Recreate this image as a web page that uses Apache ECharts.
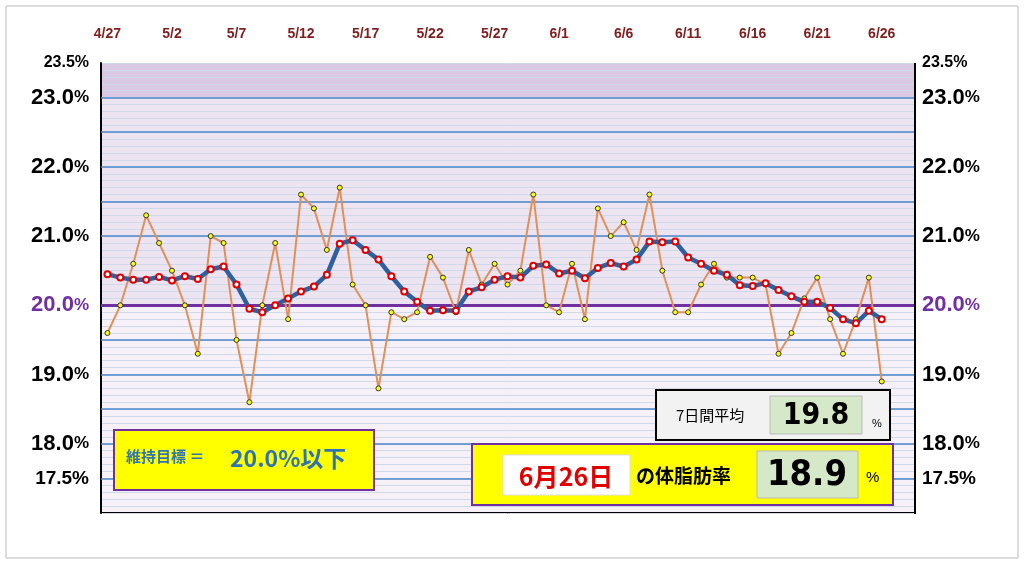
<!DOCTYPE html>
<html><head><meta charset="utf-8">
<script src="https://cdn.jsdelivr.net/npm/echarts@6/dist/echarts.min.js"></script>
<style>html,body{margin:0;padding:0;background:#fff}#c{width:1024px;height:566px}</style>
</head><body><div id="c"></div>
<script>
const categories = [];
const monthsDays = [[4,27,30],[5,1,31],[6,1,28]];
monthsDays.forEach(([m,s,e])=>{for(let d=s;d<=e;d++)categories.push(m+'/'+d);});
const daily = [19.6,20.0,20.6,21.3,20.9,20.5,20.0,19.3,21.0,20.9,19.5,18.6,20.0,20.9,19.8,21.6,21.4,20.8,21.7,20.3,20.0,18.8,19.9,19.8,19.9,20.7,20.4,19.9,20.8,20.3,20.6,20.3,20.5,21.6,20.0,19.9,20.6,19.8,21.4,21.0,21.2,20.8,21.6,20.5,19.9,19.9,20.3,20.6,20.4,20.4,20.4,20.3,19.3,19.6,20.1,20.4,19.8,19.3,19.8,20.4,18.9];
const avg7 = [20.45,20.4,20.37,20.37,20.41,20.36,20.42,20.38,20.52,20.56,20.3,19.95,19.9,20.0,20.1,20.2,20.27,20.44,20.89,20.94,20.8,20.66,20.42,20.2,20.05,19.92,19.93,19.92,20.2,20.26,20.37,20.42,20.4,20.57,20.59,20.46,20.5,20.39,20.54,20.61,20.56,20.66,20.92,20.91,20.92,20.69,20.6,20.5,20.44,20.29,20.28,20.32,20.22,20.13,20.05,20.05,19.96,19.8,19.74,19.92,19.8];
const yLabels = [17.5,18,19,20,21,22,23,23.5];
const chart = echarts.init(document.getElementById('c'));
function fmt(v){const r=Math.round(v*10)/10;if(!yLabels.includes(r))return '';
 if(r===23.5)return '{s|23.5%}'; if(r===20)return '{p|20.0}{pp|%}'; if(r===17.5)return '{m|17.5%}';
 return '{b|'+r.toFixed(1)+'}{bp|%}';}
const rich={s:{fontSize:16,fontWeight:'bold',color:'#000'},m:{fontSize:19,fontWeight:'bold',color:'#000'},
 b:{fontSize:22,fontWeight:'bold',color:'#000'},bp:{fontSize:17,fontWeight:'bold',color:'#000'},
 p:{fontSize:22,fontWeight:'bold',color:'#7030a0',textDecoration:'underline'},pp:{fontSize:17,fontWeight:'bold',color:'#7030a0'}};
const yAx=(pos)=>({type:'value',position:pos,min:17,max:23.5,interval:0.1,
 axisLine:{show:pos==='left',lineStyle:{color:'#000',width:2}},axisTick:{show:false},
 splitLine:{show:pos==='left',lineStyle:{color:'#cfd9ea',width:1}},
 axisLabel:{formatter:fmt,rich:rich,margin:pos==='left'?12:8,fontFamily:'Liberation Sans'}});
const num='DejaVu Sans Condensed';
chart.setOption({
 animation:false,
 grid:{left:101,right:110,top:63,bottom:53},
 xAxis:{type:'category',data:categories,position:'top',boundaryGap:true,
  axisLine:{show:false},axisTick:{show:false},
  axisLabel:{interval:4,color:'#7b1f1f',fontWeight:'bold',fontSize:14,margin:22,fontFamily:'Liberation Sans'}},
 yAxis:[yAx('left'),yAx('right')],
 graphic:[
  {type:'rect',shape:{x:6,y:6,width:1012,height:552},style:{fill:'none',stroke:'#bbb',lineWidth:1},z:-10},
  {type:'rect',shape:{x:914,y:63,width:2,height:450},style:{fill:'#000'}},
  {type:'rect',shape:{x:101,y:512,width:815,height:2},style:{fill:'#000'}},
  {type:'rect',shape:{x:114,y:430,width:260,height:60},style:{fill:'#ffff00',stroke:'#7030a0',lineWidth:2},z:100},
  {type:'text',x:126,y:456,style:{text:'維持目標 ＝',fontSize:15,fontWeight:'bold',fill:'#2e74b5',verticalAlign:'middle',fontFamily:'Noto Sans CJK JP'},z:101},
  {type:'text',x:230,y:458,style:{text:'20.0%以下',fontSize:23,fontWeight:'bold',fill:'#2e74b5',verticalAlign:'middle',fontFamily:'Noto Sans CJK JP'},z:101},
  {type:'rect',shape:{x:656,y:390,width:234,height:50},style:{fill:'#f2f2f2',stroke:'#000',lineWidth:2},z:100},
  {type:'text',x:676,y:415,style:{text:'7日間平均',fontSize:15,fill:'#000',verticalAlign:'middle',fontFamily:'Noto Sans CJK JP'},z:101},
  {type:'rect',shape:{x:770,y:396,width:92,height:38},style:{fill:'#d5e8c8',stroke:'#bbb',lineWidth:1},z:101},
  {type:'text',x:816,y:416,style:{text:'19.8',fontSize:30,fontWeight:'bold',fill:'#000',align:'center',verticalAlign:'middle',fontFamily:num},z:102},
  {type:'text',x:872,y:418,style:{text:'%',fontSize:11,fill:'#000'},z:101},
  {type:'rect',shape:{x:472,y:444,width:421,height:61},style:{fill:'#ffff00',stroke:'#7030a0',lineWidth:2},z:100},
  {type:'rect',shape:{x:503,y:455,width:127,height:40},style:{fill:'#ffffff',stroke:'#ddd',lineWidth:1},z:101},
  {type:'text',x:566,y:476,style:{text:'6月26日',fontSize:25,fontWeight:'bold',fill:'#e00000',align:'center',verticalAlign:'middle',fontFamily:'Noto Sans CJK JP'},z:102},
  {type:'text',x:636,y:476,style:{text:'の体脂肪率',fontSize:19,fontWeight:'bold',fill:'#000',verticalAlign:'middle',fontFamily:'Noto Sans CJK JP'},z:102},
  {type:'rect',shape:{x:757,y:451,width:101,height:47},style:{fill:'#d5e8c8',stroke:'#bbb',lineWidth:1},z:101},
  {type:'text',x:807,y:476,style:{text:'18.9',fontSize:36,fontWeight:'bold',fill:'#000',align:'center',verticalAlign:'middle',fontFamily:num},z:102},
  {type:'text',x:866,y:478,style:{text:'%',fontSize:15,fill:'#000',verticalAlign:'middle'},z:102}
 ],
 series:[
  {type:'line',data:daily,yAxisIndex:0,symbol:'circle',symbolSize:5,z:3,
   lineStyle:{color:'#e0905a',width:2},itemStyle:{color:'#ffff00',borderColor:'#333',borderWidth:1},
   markArea:{silent:true,z:-1,data:[
    [{yAxis:23},{yAxis:23.5,itemStyle:{color:'#d9c9e5'}}],
    [{yAxis:20},{yAxis:23,itemStyle:{color:'#ede4f2'}}],
    [{yAxis:17},{yAxis:20,itemStyle:{color:'#f6f1f9'}}]]},
   markLine:{silent:true,symbol:'none',label:{show:false},z:1,data:
    [17.5,18,18.5,19,19.5,21,21.5,22,22.5,23].map(v=>({yAxis:v,lineStyle:{color:'#4a86c8',width:1.5,type:'solid'}}))
    .concat([{yAxis:20,lineStyle:{color:'#7030a0',width:3,type:'solid'}}])}},
  {type:'line',data:avg7,yAxisIndex:0,symbol:'circle',symbolSize:6,z:4,
   lineStyle:{color:'#2f5f9e',width:4.5},itemStyle:{color:'#fff',borderColor:'#e00000',borderWidth:2}}
 ]
});
</script></body></html>
